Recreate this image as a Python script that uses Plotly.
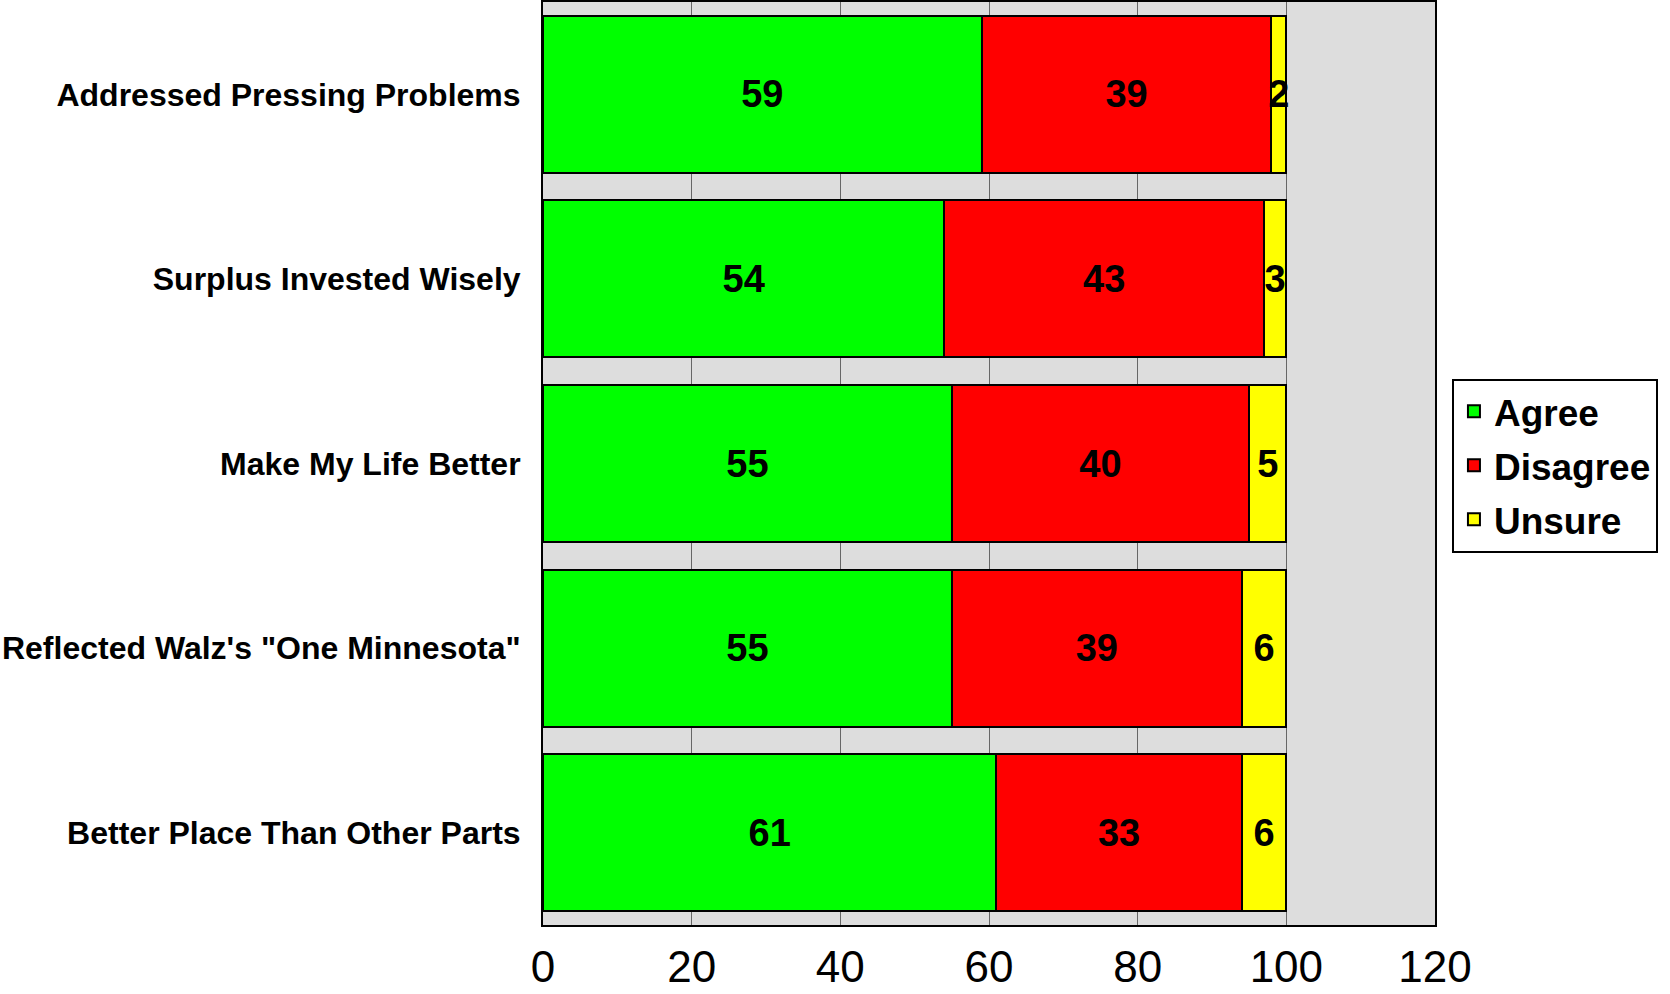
import plotly.graph_objects as go

categories = [
    "Addressed Pressing Problems",
    "Surplus Invested Wisely",
    "Make My Life Better",
    'Reflected Walz\'s "One Minnesota"',
    "Better Place Than Other Parts",
]
agree = [59, 54, 55, 55, 61]
disagree = [39, 43, 40, 39, 33]
unsure = [2, 3, 5, 6, 6]
x_ticks = [0, 20, 40, 60, 80, 100, 120]

series = [
    ("Agree", agree, "#00FF00"),
    ("Disagree", disagree, "#FF0000"),
    ("Unsure", unsure, "#FFFF00"),
]

FONT = "Liberation Sans, Arial, sans-serif"

fig = go.Figure()
for name, vals, color in series:
    fig.add_trace(go.Bar(
        name=name,
        legendgroup=name,
        y=categories,
        x=vals,
        orientation="h",
        marker=dict(color=color, line=dict(color="black", width=2)),
        text=[str(v) for v in vals],
        textposition="inside",
        insidetextanchor="middle",
        textangle=0,
        constraintext="none",
        textfont=dict(family=FONT, size=38, color="black", weight="bold"),
        cliponaxis=False,
    ))

fig.update_layout(
    barmode="stack",
    bargap=0.15,
    width=1670,
    height=994,
    margin=dict(l=543, r=235, t=2, b=69, autoexpand=False),
    paper_bgcolor="white",
    plot_bgcolor="#DDDDDD",
    font=dict(family=FONT, color="black"),
    showlegend=True,
    legend=dict(
        x=1.019, y=0.592, xanchor="left", yanchor="top",
        bgcolor="white", bordercolor="black", borderwidth=2,
        font=dict(family=FONT, size=37, color="black", weight="bold"),
        traceorder="grouped",
        tracegroupgap=3,
        itemwidth=30,
    ),
    xaxis=dict(
        range=[0, 120],
        tickvals=x_ticks,
        ticktext=[str(t) for t in x_ticks],
        showgrid=True,
        gridcolor="#666666",
        gridwidth=1,
        showline=True,
        linecolor="black",
        linewidth=2,
        mirror=True,
        ticks="",
        ticklabelstandoff=2,
        tickfont=dict(family=FONT, size=44, color="black"),
        zeroline=False,
        automargin=False,
        fixedrange=True,
    ),
    yaxis=dict(
        autorange="reversed",
        showgrid=False,
        showline=True,
        linecolor="black",
        linewidth=2,
        mirror=True,
        ticks="",
        ticklabelstandoff=14,
        tickfont=dict(family=FONT, size=32, color="black", weight="bold"),
        automargin=False,
        fixedrange=True,
    ),
)

fig.write_html(
    "out.html",
    config={"displayModeBar": False},
    post_script="document.body.style.margin='0px';document.body.style.overflow='hidden';",
)
